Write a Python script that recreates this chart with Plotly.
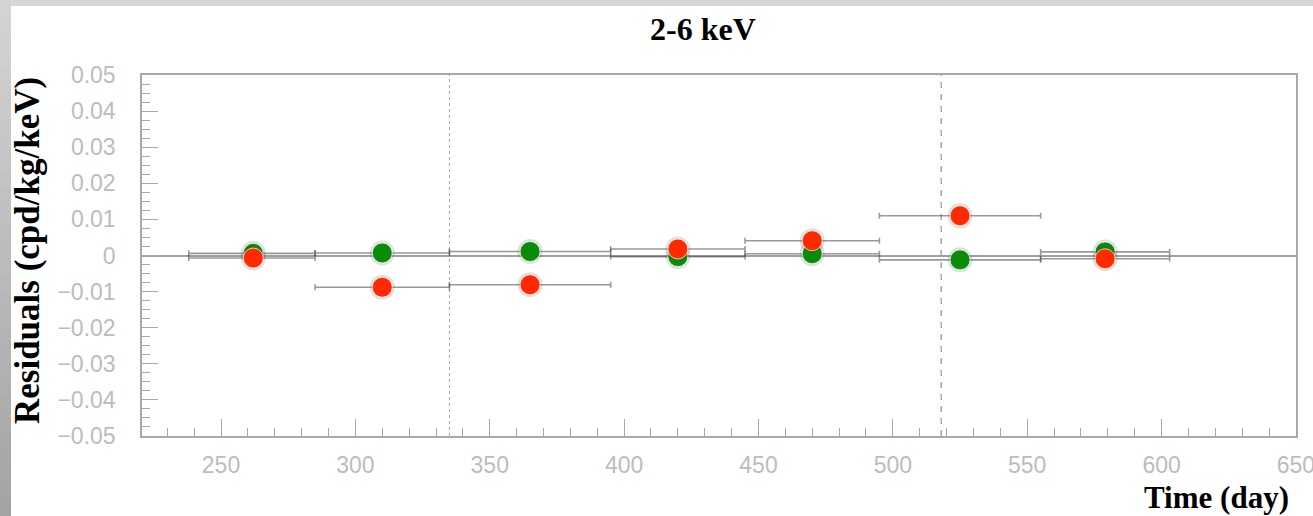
import plotly.graph_objects as go

# ---- data ----
time_day = [262, 310, 365, 420, 470, 525, 579]
bin_lo = [238, 285, 335, 395, 445, 495, 555]
bin_hi = [285, 335, 395, 445, 495, 555, 603]
green_res = [0.0006, 0.0007, 0.0011, -0.0003, 0.0005, -0.0012, 0.0010]
red_res = [-0.0007, -0.0088, -0.0081, 0.0018, 0.0041, 0.0110, -0.0009]
vline_dotted = [335]
vline_dashed = [518]
x_range = [220.6, 650.02]
y_range = [-0.05, 0.05]
x_tickvals = [250, 300, 350, 400, 450, 500, 550, 600, 650]

W, H = 1313, 516
L, R, T, B = 142, 17, 75, 80
pw, ph = W - L - R, H - T - B


def px_x(p):
    return (p - L) / pw


def px_y(p):
    return (H - B - p) / ph


err_minus = [t - lo for t, lo in zip(time_day, bin_lo)]
err_plus = [hi - t for t, hi in zip(time_day, bin_hi)]

fig = go.Figure()


def add_series(vals, color):
    # error bars + soft shadow
    fig.add_trace(go.Scatter(
        x=time_day, y=vals, mode="markers",
        marker=dict(size=25, color="rgba(60,60,60,0.16)"),
        error_x=dict(type="data", array=err_plus, arrayminus=err_minus,
                     color="rgba(70,70,70,0.55)", thickness=1.6, width=3),
        hoverinfo="skip", showlegend=False))
    fig.add_trace(go.Scatter(
        x=time_day, y=vals, mode="markers",
        marker=dict(size=20, color=color,
                    line=dict(color="rgba(255,255,255,0.7)", width=1)),
        showlegend=False))


add_series(green_res, "#0a8c0a")
add_series(red_res, "#ff2a00")

shapes = []
# background decoration: top band and left gradient band
shapes.append(dict(type="rect", xref="paper", yref="paper",
                   x0=px_x(0), x1=px_x(W), y0=px_y(6), y1=px_y(0),
                   fillcolor="#d6d6d6", line=dict(width=0), layer="below"))
n = 30
for i in range(n):
    y0p = H * i / n
    y1p = H * (i + 1) / n + 1
    f = i / (n - 1)
    c = int(212 - f * (212 - 164))
    shapes.append(dict(type="rect", xref="paper", yref="paper",
                       x0=px_x(0), x1=px_x(11), y0=px_y(y1p), y1=px_y(y0p),
                       fillcolor=f"rgb({c},{c},{c})", line=dict(width=0),
                       layer="below"))
for xv in vline_dotted:
    shapes.append(dict(type="line", xref="x", yref="paper", x0=xv, x1=xv,
                       y0=0, y1=1, line=dict(color="#a8a8a8", width=1, dash="dot"),
                       layer="below"))
for xv in vline_dashed:
    shapes.append(dict(type="line", xref="x", yref="paper", x0=xv, x1=xv,
                       y0=0, y1=1, line=dict(color="#9a9a9a", width=1.3, dash="6px,6px"),
                       layer="below"))

tick_font = dict(family="Liberation Sans", size=23, color="#bcbcbc")
axis_col = "#a8a8a8"

fig.update_layout(
    width=W, height=H,
    margin=dict(l=L, r=R, t=T, b=B, pad=0, autoexpand=False),
    paper_bgcolor="white", plot_bgcolor="white",
    shapes=shapes,
    xaxis=dict(range=x_range, showgrid=False, zeroline=False, automargin=False,
               showline=True, linecolor=axis_col, linewidth=1.5, mirror=True,
               ticks="inside", ticklen=17, tickwidth=1.3, tickcolor=axis_col,
               tickmode="array", tickvals=x_tickvals,
               ticktext=[str(v) for v in x_tickvals],
               tickfont=tick_font, ticklabelstandoff=8,
               ticklabeloverflow="allow",
               minor=dict(dtick=10, tick0=0, ticks="inside", ticklen=8,
                          tickwidth=1.3, tickcolor=axis_col)),
    yaxis=dict(range=y_range, showgrid=False, zeroline=True, automargin=False,
               zerolinecolor="#a0a0a0", zerolinewidth=1.5,
               showline=True, linecolor=axis_col, linewidth=1.5, mirror=True,
               ticks="inside", ticklen=16, tickwidth=1.3, tickcolor=axis_col,
               dtick=0.01, tick0=0, tickfont=tick_font, ticklabelstandoff=20,
               ticklabeloverflow="allow",
               minor=dict(dtick=0.0025, ticks="inside", ticklen=8,
                          tickwidth=1.3, tickcolor=axis_col)),
    annotations=[
        dict(text="2-6 keV", xref="paper", yref="paper",
             x=px_x(703), y=px_y(29), xanchor="center", yanchor="middle",
             showarrow=False,
             font=dict(family="Liberation Serif", size=32, color="black", weight="bold")),
        dict(text="Residuals (cpd/kg/keV)", xref="paper", yref="paper",
             x=px_x(27), y=px_y(251), xanchor="center", yanchor="middle",
             textangle=-90, showarrow=False,
             font=dict(family="Liberation Serif", size=35, color="black", weight="bold")),
        dict(text="Time (day)", xref="paper", yref="paper",
             x=px_x(1291), y=px_y(497), xanchor="right", yanchor="middle",
             showarrow=False,
             font=dict(family="Liberation Serif", size=31, color="black", weight="bold")),
    ],
)

fig.write_html("out.html")
